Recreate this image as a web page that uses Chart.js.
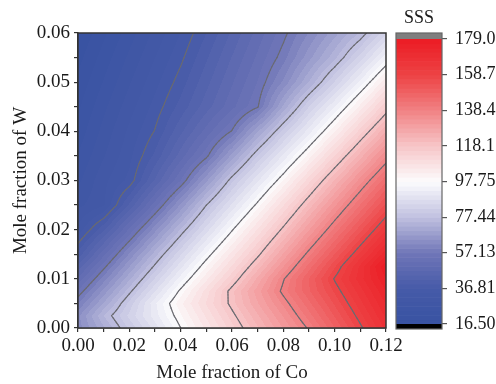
<!DOCTYPE html>
<html>
<head>
<meta charset="utf-8">
<script src="https://cdn.jsdelivr.net/npm/chart.js@4.4.1/dist/chart.umd.min.js"></script>
<style>
html,body{margin:0;padding:0;background:#fff;}
#wrap{position:relative;width:496px;height:384px;}
#main{position:absolute;left:0;top:0;}
#bar{position:absolute;left:390px;top:0;}
</style>
</head>
<body>
<div id="wrap">
<canvas id="main" width="496" height="384"></canvas>
<canvas id="bar" width="106" height="384"></canvas>
</div>
<script>
// grid: mole fraction of Co (x) and W (y)
const co = [0, 0.01, 0.02, 0.03, 0.04, 0.05, 0.06, 0.07, 0.08, 0.09, 0.10, 0.11, 0.12];
const w = [0, 0.0025, 0.005, 0.0075, 0.01, 0.0125, 0.015, 0.02, 0.025, 0.03, 0.035, 0.04, 0.045, 0.05, 0.055, 0.06];

// SSS, one row per W value (bottom to top)
const sss = [
  [63.3, 71.9, 80.5, 88.8, 97.7, 106.1, 114.5, 122.8, 130.9, 139.1, 148.4, 157.8, 167.1],
  [64.0, 74.9, 83.2, 91.5, 99.9, 108.4, 116.9, 125.3, 133.6, 142.3, 151.4, 160.4, 169.5],
  [59.6, 70.1, 80.9, 92.1, 102.1, 110.7, 119.4, 128.0, 136.5, 145.3, 154.1, 162.9, 171.7],
  [54.9, 65.6, 76.4, 87.5, 98.7, 109.1, 119.8, 129.6, 139.6, 148.2, 156.7, 165.3, 173.9],
  [50.1, 60.9, 71.8, 82.8, 94.0, 104.7, 115.1, 126.4, 138.0, 148.7, 159.1, 167.8, 176.4],
  [45.2, 56.1, 67.2, 78.2, 89.3, 100.3, 110.8, 121.7, 133.2, 144.6, 155.8, 167.0, 179.0],
  [40.1, 51.3, 62.5, 73.7, 84.7, 95.7, 106.4, 117.0, 128.5, 140.0, 151.1, 162.1, 173.2],
  [32.5, 41.5, 52.5, 63.8, 75.2, 86.3, 97.3, 108.2, 119.2, 130.6, 141.8, 152.7, 163.6],
  [28.5, 31.3, 42.3, 53.4, 65.2, 77.4, 88.1, 98.9, 110.2, 121.5, 132.7, 143.6, 154.3],
  [26.0, 31.0, 35.0, 44.8, 54.6, 66.7, 79.2, 89.7, 100.4, 112.0, 123.4, 134.5, 145.3],
  [24.2, 29.0, 33.5, 40.0, 48.2, 56.3, 68.2, 80.2, 90.7, 101.5, 113.1, 124.5, 135.6],
  [22.6, 27.5, 32.3, 37.0, 43.8, 50.5, 57.4, 69.5, 81.0, 91.5, 102.5, 114.2, 125.6],
  [21.1, 26.0, 30.6, 35.2, 40.3, 45.8, 51.3, 56.8, 70.4, 82.5, 92.7, 103.7, 115.3],
  [19.7, 24.3, 28.9, 33.4, 38.1, 43.6, 49.2, 54.7, 62.7, 72.5, 82.8, 93.5, 104.8],
  [18.1, 22.7, 27.2, 31.7, 36.1, 41.5, 47.1, 52.6, 58.6, 66.4, 74.1, 83.6, 94.4],
  [16.5, 21.0, 25.4, 29.9, 34.3, 39.3, 44.9, 50.5, 56.1, 62.4, 68.8, 75.2, 84.5]
];

// colour scale ticks
const cbTicks = [16.5, 36.81, 57.13, 77.44, 97.75, 118.1, 138.4, 158.7, 179.0];
const cbLabels = ["16.50", "36.81", "57.13", "77.44", "97.75", "118.1", "138.4", "158.7", "179.0"];
const contourLevels = cbTicks.slice(1, -1);

const cmapCols = [[56,82,162],[70,90,168],[112,118,184],[192,192,224],[252,252,253],[247,198,200],[241,130,132],[237,66,68],[236,28,36]];
const BANDS = 64;
const vMin = cbTicks[0], vMax = cbTicks[cbTicks.length-1];
const step = (vMax - vMin) / BANDS;
const FONT = "'Liberation Serif', 'Times New Roman', serif";

function cmap(v){
  let i = 0;
  while(i < cbTicks.length-2 && v > cbTicks[i+1]) i++;
  let t = (v - cbTicks[i]) / (cbTicks[i+1] - cbTicks[i]);
  t = Math.max(0, Math.min(1, t));
  let a = cmapCols[i], b = cmapCols[i+1];
  return [0,1,2].map(k => Math.round(a[k] + (b[k]-a[k])*t));
}

function bandColor(v){
  let k = Math.floor((v - vMin) / step);
  k = Math.max(0, Math.min(BANDS-1, k));
  return cmap(vMin + (k+0.5)*step);
}

function findIdx(arr, v){
  let i = 0;
  while(i < arr.length-2 && v > arr[i+1]) i++;
  return i;
}

// bilinear value inside the read grid
function field(x, y){
  let i = findIdx(co, x), j = findIdx(w, y);
  let tx = (x - co[i]) / (co[i+1] - co[i]);
  let ty = (y - w[j]) / (w[j+1] - w[j]);
  tx = Math.max(0, Math.min(1, tx));
  ty = Math.max(0, Math.min(1, ty));
  let a = sss[j][i], b = sss[j][i+1], c = sss[j+1][i], d = sss[j+1][i+1];
  return a*(1-tx)*(1-ty) + b*tx*(1-ty) + c*(1-tx)*ty + d*tx*ty;
}

// FILLED CONTOUR + LINES
const heatPlugin = {
  id:"heat",
  beforeDatasetsDraw(chart){
    const {ctx, chartArea:a} = chart;
    const xs = chart.scales.x, ys = chart.scales.y;
    const W = Math.round(a.right - a.left), H = Math.round(a.bottom - a.top);
    const img = ctx.createImageData(W, H);
    for(let py=0; py<H; py++){
      const yv = ys.getValueForPixel(a.top + py + 0.5);
      for(let px=0; px<W; px++){
        const xv = xs.getValueForPixel(a.left + px + 0.5);
        const c = bandColor(field(xv, yv));
        const k = (py*W + px)*4;
        img.data[k] = c[0]; img.data[k+1] = c[1]; img.data[k+2] = c[2]; img.data[k+3] = 255;
      }
    }
    const off = document.createElement("canvas");
    off.width = W; off.height = H;
    off.getContext("2d").putImageData(img, 0, 0);
    ctx.drawImage(off, a.left, a.top);

    // contour lines: marching squares on a finer sampling, joined per level
    const sub = 8;
    let fx = [], fy = [];
    for(let i=0;i<co.length-1;i++) for(let s=0;s<sub;s++) fx.push(co[i] + (co[i+1]-co[i])*s/sub);
    fx.push(co[co.length-1]);
    for(let j=0;j<w.length-1;j++) for(let s=0;s<sub;s++) fy.push(w[j] + (w[j+1]-w[j])*s/sub);
    fy.push(w[w.length-1]);
    const fv = fy.map(y => fx.map(x => field(x, y)));

    ctx.save();
    ctx.beginPath();
    ctx.rect(a.left, a.top, a.right-a.left, a.bottom-a.top);
    ctx.clip();
    ctx.strokeStyle = "#6a6a70";
    ctx.lineWidth = 1.1;
    ctx.lineCap = "round";
    ctx.lineJoin = "round";
    contourLevels.forEach(L => {
      const segs = [];
      for(let j=0;j<fy.length-1;j++){
        for(let i=0;i<fx.length-1;i++){
          const p = [
            [fx[i], fy[j], fv[j][i]],
            [fx[i+1], fy[j], fv[j][i+1]],
            [fx[i+1], fy[j+1], fv[j+1][i+1]],
            [fx[i], fy[j+1], fv[j+1][i]]
          ];
          let pts = [];
          for(let e=0;e<4;e++){
            const A = p[e], B = p[(e+1)%4];
            const da = A[2]-L, db = B[2]-L;
            if((da < 0 && db >= 0) || (da >= 0 && db < 0)){
              const t = (L - A[2]) / (B[2] - A[2]);
              pts.push([A[0] + t*(B[0]-A[0]), A[1] + t*(B[1]-A[1])]);
            }
          }
          for(let q=0; q+1<pts.length; q+=2) segs.push([pts[q], pts[q+1]]);
        }
      }
      segs.forEach(s => {
        ctx.beginPath();
        ctx.moveTo(xs.getPixelForValue(s[0][0]), ys.getPixelForValue(s[0][1]));
        ctx.lineTo(xs.getPixelForValue(s[1][0]), ys.getPixelForValue(s[1][1]));
        ctx.stroke();
      });
    });
    ctx.restore();
  },
  afterDraw(chart){
    const {ctx, chartArea:a} = chart;
    ctx.save();
    ctx.strokeStyle = "#333";
    ctx.lineWidth = 1.5;
    ctx.strokeRect(a.left, a.top, a.right-a.left, a.bottom-a.top);
    ctx.restore();
  }
};

new Chart(document.getElementById("main"), {
  type:"scatter",
  data:{datasets:[{data:[]}]},
  options:{
    responsive:false,
    animation:false,
    layout:{padding:{top:33, right:110, left:0, bottom:0}},
    plugins:{legend:{display:false}, tooltip:{enabled:false}},
    scales:{
      x:{
        type:"linear", min:0, max:0.12,
        afterFit: s => { s.height = 56; },
        ticks:{
          stepSize:0.01, autoSkip:false, maxRotation:0, padding:3,
          callback: v => (Math.round(v*100) % 2 === 0 ? v.toFixed(2) : ""),
          font:{family:FONT, size:19}, color:"#1a1a1a"
        },
        grid:{drawOnChartArea:false, tickLength:4, color:"#333", lineWidth:1.2},
        border:{color:"#333", width:1.5},
        title:{display:true, text:"Mole fraction of Co", font:{family:FONT, size:19}, color:"#1a1a1a", padding:{top:4, bottom:0}}
      },
      y:{
        type:"linear", min:0, max:0.06,
        afterFit: s => { s.width = 78; },
        ticks:{
          stepSize:0.005, autoSkip:false, padding:4,
          callback: v => (Math.round(v*1000) % 10 === 0 ? v.toFixed(2) : ""),
          font:{family:FONT, size:19}, color:"#1a1a1a"
        },
        grid:{drawOnChartArea:false, tickLength:4, color:"#333", lineWidth:1.2},
        border:{color:"#333", width:1.5},
        title:{display:true, text:"Mole fraction of W", font:{family:FONT, size:19}, color:"#1a1a1a", padding:{top:10, bottom:0}}
      }
    }
  },
  plugins:[heatPlugin]
});

// COLOUR BAR
const barPlugin = {
  id:"cbar",
  beforeDatasetsDraw(chart){
    const {ctx, chartArea:a} = chart;
    const ys = chart.scales.y;
    ctx.save();
    for(let k=0;k<BANDS;k++){
      const y1 = ys.getPixelForValue(vMin + k*step);
      const y2 = ys.getPixelForValue(vMin + (k+1)*step);
      const c = cmap(vMin + (k+0.5)*step);
      ctx.fillStyle = `rgb(${c[0]},${c[1]},${c[2]})`;
      ctx.fillRect(a.left, y2, a.right-a.left, y1-y2+0.6);
    }
    const top = ys.getPixelForValue(vMax), bot = ys.getPixelForValue(vMin);
    ctx.fillStyle = "#7f7f7f";
    ctx.fillRect(a.left, top-6, a.right-a.left, 6);
    ctx.fillStyle = "#000";
    ctx.fillRect(a.left, bot, a.right-a.left, 5);
    ctx.strokeStyle = "#666";
    ctx.lineWidth = 1.2;
    ctx.strokeRect(a.left, top-6, a.right-a.left, bot-top+11);
    ctx.fillStyle = "#1a1a1a";
    ctx.font = "18px " + FONT;
    ctx.textAlign = "center";
    ctx.textBaseline = "middle";
    ctx.fillText("SSS", (a.left+a.right)/2, 18);
    ctx.restore();
  }
};

new Chart(document.getElementById("bar"), {
  type:"scatter",
  data:{datasets:[{data:[]}]},
  options:{
    responsive:false,
    animation:false,
    layout:{padding:{left:6, top:39, bottom:60, right:0}},
    plugins:{legend:{display:false}, tooltip:{enabled:false}},
    scales:{
      x:{display:false, min:0, max:1},
      y:{
        position:"right", min:vMin, max:vMax,
        afterBuildTicks: s => { s.ticks = cbTicks.map(v => ({value:v})); },
        afterFit: s => { s.width = 54; },
        ticks:{
          autoSkip:false, padding:8,
          callback:(v, i) => cbLabels[i],
          font:{family:FONT, size:18}, color:"#1a1a1a"
        },
        grid:{drawOnChartArea:false, tickLength:5, color:"#555", lineWidth:1.2},
        border:{display:false}
      }
    }
  },
  plugins:[barPlugin]
});
</script>
</body>
</html>
